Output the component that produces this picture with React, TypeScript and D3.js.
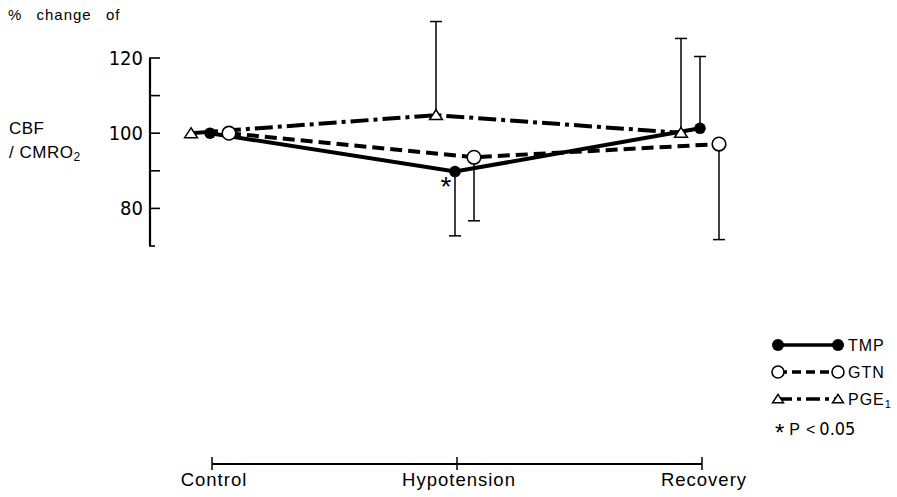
import React from 'react';
import * as d3 from 'd3';

const width = 897;
const height = 497;

const phases = ['Control', 'Hypotension', 'Recovery'];
const yTicks = [70, 80, 90, 100, 110, 120];
const yLabels = [80, 100, 120];

// mean % change and the one-sided error bar ends
const tmpMean = [100, 89.8, 101.3];
const tmpErrLow = [null, 72.7, null];
const tmpErrHigh = [null, null, 120.4];

const gtnMean = [100, 93.6, 97.1];
const gtnErrLow = [null, 76.7, 71.7];
const gtnErrHigh = [null, null, null];

const pgeMean = [100, 104.8, 100.1];
const pgeErrLow = [null, null, null];
const pgeErrHigh = [null, 129.7, 125.2];

const series = [
  { name: 'TMP', mean: tmpMean, low: tmpErrLow, high: tmpErrHigh, marker: 'filled', dash: null, offset: -2 },
  { name: 'GTN', mean: gtnMean, low: gtnErrLow, high: gtnErrHigh, marker: 'open', dash: '12 6', offset: 17 },
  { name: 'PGE', mean: pgeMean, low: pgeErrLow, high: pgeErrHigh, marker: 'triangle', dash: '18 5 4 5', offset: -21 },
];

const numFont = '"Liberation Sans Narrow", "DejaVu Sans Condensed", sans-serif';
const textFont = '"Liberation Sans", Arial, sans-serif';

const Marker = ({ type, x, y, size }) => {
  if (type === 'filled') return <circle cx={x} cy={y} r={size} fill="#000" />;
  if (type === 'open') return <circle cx={x} cy={y} r={size} fill="#fff" stroke="#000" strokeWidth={1.6} />;
  const h = size * 1.7;
  const w = size * 1.1;
  return (
    <path
      d={`M${x},${y - h * 0.55} L${x + w},${y + h * 0.45} L${x - w},${y + h * 0.45} Z`}
      fill="#fff"
      stroke="#000"
      strokeWidth={1.5}
    />
  );
};

export default function App() {
  const x = d3.scalePoint().domain(phases).range([212, 702]);
  const y = d3.scaleLinear().domain([70, 120]).range([246, 58]);

  const line = d3
    .line<[number, number]>()
    .x(d => d[0])
    .y(d => d[1]);

  const legendY = [345, 372, 399];

  return (
    <svg
      width={width}
      height={height}
      style={{ position: 'absolute', left: 0, top: 0, background: '#fff' }}
    >
      <rect width={width} height={height} fill="#fff" />

      {/* titles */}
      <text x={8} y={20} fontFamily={textFont} fontSize={15} letterSpacing={1} wordSpacing={9}>
        % change of
      </text>
      <text x={9} y={134} fontFamily={textFont} fontSize={17} letterSpacing={0.5}>CBF</text>
      <text x={9} y={158} fontFamily={textFont} fontSize={17} letterSpacing={0.5}>
        / CMRO<tspan fontSize={12} dy={3}>2</tspan>
      </text>

      {/* y axis */}
      <line x1={150} x2={150} y1={y(120)} y2={y(70)} stroke="#000" strokeWidth={2.2} />
      {yTicks.map(t => (
        <line
          key={t}
          x1={149}
          x2={t === 70 ? 155 : 160}
          y1={y(t)}
          y2={y(t)}
          stroke="#000"
          strokeWidth={1.6}
        />
      ))}
      {yLabels.map(t => (
        <text
          key={t}
          x={143}
          y={y(t) + 7}
          textAnchor="end"
          fontFamily={numFont}
          fontSize={20}
        >
          {t}
        </text>
      ))}

      {/* x axis */}
      <line x1={x('Control')} x2={x('Recovery')} y1={464} y2={464} stroke="#000" strokeWidth={1.8} />
      {phases.map(p => (
        <g key={p}>
          <line x1={x(p)} x2={x(p)} y1={457} y2={470} stroke="#000" strokeWidth={1.5} />
          <text
            x={x(p) + 2}
            y={486}
            textAnchor="middle"
            fontFamily={textFont}
            fontSize={18.5}
            letterSpacing={1}
          >
            {p}
          </text>
        </g>
      ))}

      {/* series lines */}
      {series.map(s => (
        <path
          key={s.name}
          d={line(s.mean.map((v, i) => [x(phases[i]) + s.offset, y(v)]))}
          fill="none"
          stroke="#000"
          strokeWidth={4}
          strokeDasharray={s.dash || undefined}
        />
      ))}

      {/* error bars */}
      {series.map(s =>
        s.mean.map((v, i) => {
          const cx = x(phases[i]) + s.offset;
          const ends = [s.low[i], s.high[i]].filter(e => e != null);
          return ends.map((e, k) => (
            <g key={`${s.name}-${i}-${k}`}>
              <line x1={cx} x2={cx} y1={y(v)} y2={y(e)} stroke="#000" strokeWidth={1.5} />
              <line x1={cx - 6} x2={cx + 6} y1={y(e)} y2={y(e)} stroke="#000" strokeWidth={1.5} />
            </g>
          ));
        })
      )}

      {/* markers */}
      {series.map(s =>
        s.mean.map((v, i) => (
          <Marker
            key={`${s.name}-m-${i}`}
            type={s.marker}
            x={x(phases[i]) + s.offset}
            y={y(v)}
            size={s.marker === 'open' ? 6.8 : 5.8}
          />
        ))
      )}

      {/* significance mark */}
      <text
        x={x('Hypotension') - 11}
        y={y(tmpMean[1]) + 24}
        textAnchor="middle"
        fontFamily={textFont}
        fontSize={28}
      >
        *
      </text>

      {/* legend */}
      {series.map((s, i) => (
        <g key={`leg-${s.name}`}>
          <line
            x1={778}
            x2={838}
            y1={legendY[i]}
            y2={legendY[i]}
            stroke="#000"
            strokeWidth={3.5}
            strokeDasharray={s.dash ? (s.marker === 'open' ? '9 5' : '14 5 4 5') : undefined}
          />
          <Marker type={s.marker} x={778} y={legendY[i]} size={s.marker === 'triangle' ? 5 : 6} />
          <Marker type={s.marker} x={838} y={legendY[i]} size={s.marker === 'triangle' ? 5 : 6} />
          <text x={848} y={legendY[i] + 6} fontFamily={textFont} fontSize={16} letterSpacing={1}>
            {s.name === 'PGE' ? (
              <>
                PGE<tspan fontSize={11} dy={3}>1</tspan>
              </>
            ) : (
              s.name
            )}
          </text>
        </g>
      ))}
      <text x={775} y={435} fontFamily={textFont} fontSize={16}>
        <tspan fontSize={24} dy={6}>*</tspan>
        <tspan dy={-6} dx={5}>P</tspan>
        <tspan dx={6}>&lt;</tspan>
        <tspan dx={4} fontFamily={numFont} fontSize={18}>0.05</tspan>
      </text>
    </svg>
  );
}
